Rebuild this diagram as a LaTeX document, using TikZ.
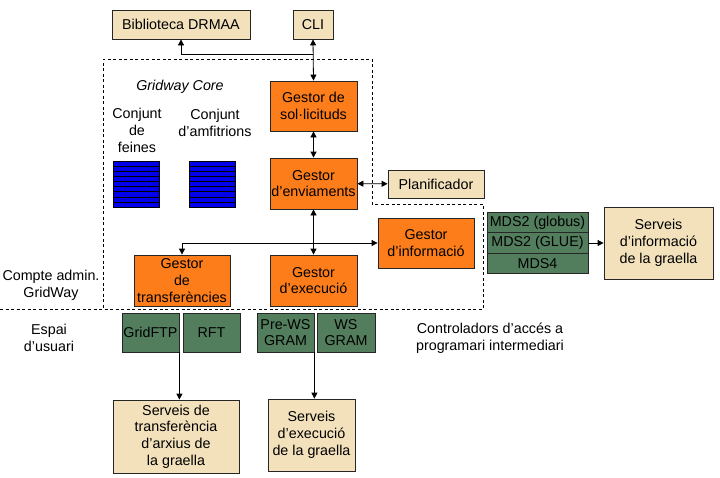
\documentclass[tikz,border=0pt]{standalone}
\usepackage{fontspec}
\setmainfont{Liberation Sans}
\usetikzlibrary{arrows.meta}
\definecolor{gwBeige}{RGB}{243,225,188}
\definecolor{gwOrange}{RGB}{252,125,25}
\definecolor{gwGreen}{RGB}{82,126,94}
\definecolor{gwBlue}{RGB}{0,0,235}
\tikzset{
  box/.style={draw=black!85, line width=0.8pt, inner sep=1pt, align=center,
    font=\fontsize{14.3}{16.8}\selectfont},
  beigebox/.style={box, fill=gwBeige},
  orangebox/.style={box, fill=gwOrange},
  greenbox/.style={box, fill=gwGreen},
  txt/.style={align=center, font=\fontsize{14.3}{17}\selectfont},
  conn/.style={line width=0.8pt, -{Triangle[length=6pt,width=6pt]}},
  both/.style={line width=0.8pt, {Triangle[length=6pt,width=6pt]}-{Triangle[length=6pt,width=6pt]}},
  region/.style={line width=0.8pt, dash pattern=on 3pt off 2.5pt}
}
\begin{document}
\begin{tikzpicture}[x=1pt,y=-1pt]
\useasboundingbox (0,0) rectangle (720,477);
% admin / user boundary
\draw[region] (0,309) -- (483,309) -- (483,204) -- (372,204) -- (372,59) -- (103,59) -- (103,309);
\node[txt] (core) at (180,87) {\itshape Gridway Core};
\node[txt] (feines) at (137,130) {Conjunt\\de\\feines};
\node[txt] (amfitr) at (215,123) {Conjunt\\d’amfitrions};
\node[txt] (admin) at (51,285) {Compte admin.\\GridWay};
\node[txt] (usuari) at (49,338) {Espai\\d’usuari};
\node[txt] (ctrl) at (490,338) {Controladors d’accés a\\programari intermediari};
% job and host pools
\foreach \x in {113,189} {
  \fill[gwBlue] (\x,161) rectangle ++(46,46);
  \foreach \k in {1,...,8}
    \draw[line width=0.5pt] (\x,161+\k*5.11) -- ++(46,0);
  \draw[line width=0.8pt] (\x,161) rectangle ++(46,46);
}
% boxes
\node[beigebox, minimum width=138pt, minimum height=29pt] (drmaa) at (181,24.5) {Biblioteca DRMAA};
\node[beigebox, minimum width=40pt, minimum height=29pt] (cli) at (313,24.5) {CLI};
\node[orangebox, minimum width=87pt, minimum height=50pt] (sol) at (313.5,106) {Gestor de\\sol·licituds};
\node[orangebox, minimum width=87pt, minimum height=51pt] (env) at (313.5,183.5) {Gestor\\d’enviaments};
\node[beigebox, minimum width=96pt, minimum height=28pt] (plan) at (436,184) {Planificador};
\node[orangebox, minimum width=96pt, minimum height=50pt] (info) at (426,243) {Gestor\\d’informació};
\node[orangebox, minimum width=96pt, minimum height=51pt] (transf) at (182,280.5) {Gestor\\de\\transferències};
\node[orangebox, minimum width=87pt, minimum height=51pt] (exec) at (313.5,280.5) {Gestor\\d’execució};
\node[greenbox, minimum width=101pt, minimum height=20.5pt] (mdsa) at (537.5,222.5) {MDS2 (globus)};
\node[greenbox, minimum width=101pt, minimum height=20.5pt] (mdsb) at (537.5,243) {MDS2 (GLUE)};
\node[greenbox, minimum width=101pt, minimum height=20.5pt] (mdsc) at (537.5,263.5) {MDS4};
\node[beigebox, minimum width=109pt, minimum height=72pt] (sinfo) at (658.5,243) {Serveis\\d’informació\\de la graella};
\node[greenbox, minimum width=57pt, minimum height=39pt] (gridftp) at (150.5,332.5) {GridFTP};
\node[greenbox, minimum width=57pt, minimum height=39pt] (rft) at (211.5,332.5) {RFT};
\node[greenbox, minimum width=57pt, minimum height=39pt] (prews) at (285.5,332.5) {Pre-WS\\GRAM};
\node[greenbox, minimum width=58pt, minimum height=39pt] (ws) at (346,332.5) {WS\\GRAM};
\node[beigebox, minimum width=126pt, minimum height=73pt] (stransf) at (176,436.5) {Serveis de\\transferència\\d’arxius de\\la graella};
\node[beigebox, minimum width=87pt, minimum height=72pt] (sexec) at (311.5,435) {Serveis\\d’execució\\de la graella};
% connectors
\coordinate (split) at (313,54);
\coordinate (hub) at (313,243);
\draw[conn] (split) -| (drmaa.south);
\draw[both] (cli.south) -- (sol.north);
\draw[both] (sol) -- (env);
\draw[both] (env) -- (exec);
\draw[both] (env) -- (plan);
\draw[conn] (hub) -- (info.west);
\draw[conn] (hub) -| (transf.north);
\draw[conn] (mdsb.east) -- (sinfo.west);
\draw[conn] (gridftp.south east) -- (gridftp.south east |- stransf.north);
\draw[conn] (prews.south east) -- (prews.south east |- sexec.north);
\end{tikzpicture}
\end{document}
